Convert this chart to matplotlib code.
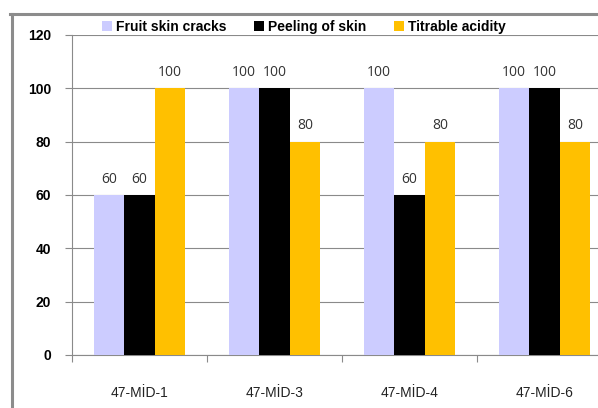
import numpy as np
import matplotlib
matplotlib.use("Agg")
from matplotlib import pyplot as plt
from matplotlib.lines import Line2D

categories = ["47-MİD-1", "47-MİD-3", "47-MİD-4", "47-MİD-6"]
series_names = ["Fruit skin cracks", "Peeling of skin", "Titrable acidity"]
fruit_skin_cracks = [60, 100, 100, 100]
peeling_of_skin = [60, 100, 60, 100]
titrable_acidity = [100, 80, 80, 80]
colors = ["#ccccff", "#000000", "#ffc000"]

narrow = ["Liberation Sans Narrow", "Liberation Sans", "DejaVu Sans"]


def main():
    fig = plt.figure(figsize=(5.98, 4.08), dpi=100)
    ax = fig.add_axes([72 / 598, 1 - 355 / 408, 540 / 598, 320 / 408])

    x = np.arange(len(categories))
    w = 0.225
    values = [fruit_skin_cracks, peeling_of_skin, titrable_acidity]
    for i, (vals, col, name) in enumerate(zip(values, colors, series_names)):
        bars = ax.bar(x + (i - 1) * w, vals, w, color=col, label=name, zorder=3)
        for b, v in zip(bars, vals):
            ax.annotate(str(v), (b.get_x() + b.get_width() / 2, v),
                        xytext=(0, 6), textcoords="offset points",
                        ha="center", va="bottom", fontsize=10,
                        color="#333333", family=["Open Sans", "DejaVu Sans"])

    ax.set_xlim(-0.5, 3.5)
    ax.set_ylim(0, 120)
    ax.set_yticks(range(0, 121, 20))
    ax.yaxis.grid(True, color="#8a8a8a", lw=0.8, zorder=0)
    ax.set_xticks(np.arange(-0.5, 4, 1))
    ax.set_xticklabels([])
    ax.set_xticks(x, minor=True)
    ax.set_xticklabels(categories, minor=True, fontsize=10, family=narrow,
                       color="#222222")
    ax.tick_params(axis="x", which="minor", length=0, pad=22)
    ax.tick_params(axis="x", which="major", length=5, color="#8a8a8a", width=0.8)
    ax.tick_params(axis="y", length=5, color="#8a8a8a", width=0.8, pad=10)
    for lab in ax.get_yticklabels():
        lab.set_fontsize(10)
        lab.set_family(narrow)
        lab.set_fontweight("bold")
    for s in ["top", "right"]:
        ax.spines[s].set_visible(False)
    for s in ["left", "bottom"]:
        ax.spines[s].set_color("#8a8a8a")
        ax.spines[s].set_linewidth(0.8)

    ax.legend(loc="lower left", bbox_to_anchor=(30 / 540, 1.003), ncol=3,
              frameon=False, handlelength=0.7, handleheight=0.7,
              handletextpad=0.3, columnspacing=2.0, borderaxespad=0,
              borderpad=0,
              prop={"family": narrow, "weight": "bold", "size": 10})

    # outer chart border (top and left visible)
    fig.add_artist(Line2D([10 / 598, 1.0], [1 - 14 / 408, 1 - 14 / 408],
                          color="#8c8c8c", lw=2.2, transform=fig.transFigure))
    fig.add_artist(Line2D([12 / 598, 12 / 598], [1 - 14 / 408, 0],
                          color="#8c8c8c", lw=2.2, transform=fig.transFigure))

    fig.savefig("out.png", dpi=100)


if __name__ == '__main__':
    main()
